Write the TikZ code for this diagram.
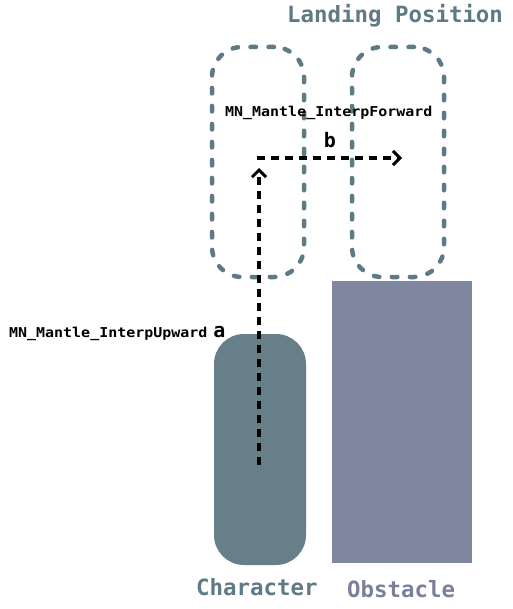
\documentclass[tikz,border=0pt]{standalone}
\usepackage{fontspec}
\newfontfamily\monob{DejaVu Sans Mono}
\newfontfamily\monos[FakeStretch=1.1]{DejaVu Sans Mono}
\usetikzlibrary{arrows.meta}
\definecolor{charfill}{HTML}{667F88}
\definecolor{obsfill}{HTML}{7F86A0}
\definecolor{landcol}{HTML}{5E7A84}
\definecolor{obstext}{HTML}{7A809B}
\begin{document}
\begin{tikzpicture}[x=1pt,y=-1pt,
  landbox/.style={draw=landcol,line width=4.5pt,line cap=round,dash pattern=on 5.5pt off 12.5pt,rounded corners=30pt,minimum width=92pt,minimum height=230pt,inner sep=0pt},
  mover/.style={line width=3.5pt,dash pattern=on 8pt off 6pt,-{Straight Barb[length=7pt,width=14pt,line width=3pt]}},
  title/.style={font=\monob\bfseries\fontsize{22.4}{26}\selectfont,inner sep=0pt,anchor=base west},
  smalllab/.style={font=\monos\bfseries\fontsize{13.6}{16}\selectfont,inner sep=0pt,anchor=base west},
  letterlab/.style={font=\monob\bfseries\fontsize{20}{24}\selectfont,inner sep=0pt,anchor=base}]
\useasboundingbox (0,0) rectangle (512,609);
\node[fill=charfill,rounded corners=30pt,minimum width=92pt,minimum height=231pt,inner sep=0pt] (char) at (260,449.5) {};
\node[fill=obsfill,minimum width=140pt,minimum height=282pt,inner sep=0pt] (obs) at (402,422) {};
\node[landbox] (land1) at (258,162) {};
\node[landbox] (land2) at (398,162) {};
\coordinate (astart) at (259,465);
\coordinate (aend) at (259,168);
\coordinate (bstart) at (257,158);
\coordinate (bend) at (402,158);
\draw[mover] (astart) -- (aend);
\draw[mover] (bstart) -- (bend);
\node[title,text=landcol] (ltitle) at (287,23) {Landing Position};
\node[title,text=landcol] (ctitle) at (196,595) {Character};
\node[title,text=obstext] (otitle) at (347,597) {Obstacle};
\node[smalllab] (fwd) at (225,117) {MN\_Mantle\_InterpForward};
\node[smalllab] (up) at (9,337) {MN\_Mantle\_InterpUpward};
\node[letterlab] (la) at (219.5,337) {a};
\node[letterlab] (lb) at (330,148) {b};
\end{tikzpicture}
\end{document}
